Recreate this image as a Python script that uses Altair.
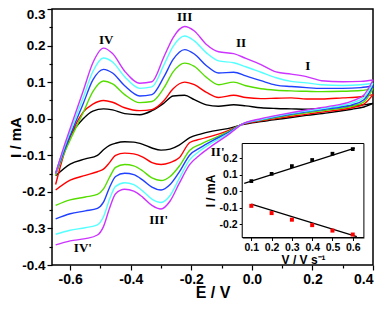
import altair as alt
import pandas as pd

# ---------------- data ----------------
series = ["black", "red", "green", "blue", "cyan", "magenta"]
colors = ["#000000", "#ff0000", "#55dd00", "#2040ff", "#55ffff", "#cc33ff"]

# anodic (upper) branch sample potentials
x_up = [-0.648, -0.62, -0.60, -0.557, -0.525, -0.49, -0.46, -0.42, -0.37, -0.33, -0.29, -0.26, -0.222,
        -0.19, -0.15, -0.11, -0.06, -0.02, 0.03, 0.08, 0.13, 0.18, 0.23, 0.30, 0.36, 0.40]
up_black = [-0.15, -0.082, -0.047, 0.0, 0.021, 0.027, 0.024, 0.014, 0.011, 0.022, 0.043, 0.062, 0.064,
            0.052, 0.038, 0.034, 0.038, 0.035, 0.03, 0.028, 0.027, 0.026, 0.028, 0.034, 0.037, 0.042]
up_red = [-0.18, -0.095, -0.05, 0.018, 0.04, 0.05, 0.045, 0.03, 0.022, 0.025, 0.05, 0.082, 0.1,
          0.093, 0.072, 0.058, 0.064, 0.058, 0.055, 0.056, 0.057, 0.054, 0.054, 0.057, 0.06, 0.066]
up_green = [-0.155, -0.095, -0.058, 0.017, 0.074, 0.103, 0.095, 0.066, 0.044, 0.047, 0.085, 0.128, 0.152,
            0.143, 0.113, 0.093, 0.1, 0.09, 0.082, 0.078, 0.076, 0.075, 0.074, 0.075, 0.077, 0.083]
up_blue = [-0.15, -0.088, -0.045, 0.041, 0.106, 0.135, 0.125, 0.09, 0.062, 0.066, 0.115, 0.162, 0.189,
           0.177, 0.145, 0.125, 0.127, 0.117, 0.104, 0.092, 0.088, 0.085, 0.083, 0.083, 0.085, 0.09]
up_cyan = [-0.15, -0.08, -0.036, 0.058, 0.129, 0.166, 0.155, 0.115, 0.083, 0.087, 0.148, 0.198, 0.226,
           0.213, 0.18, 0.158, 0.153, 0.142, 0.127, 0.112, 0.102, 0.098, 0.093, 0.091, 0.093, 0.097]
up_magenta = [-0.15, -0.075, -0.027, 0.076, 0.153, 0.193, 0.178, 0.13, 0.097, 0.101, 0.17, 0.222, 0.252,
              0.24, 0.203, 0.183, 0.178, 0.165, 0.148, 0.128, 0.122, 0.115, 0.104, 0.101, 0.102, 0.106]

# cathodic (lower) branch sample potentials
x_lo = [0.40, 0.37, 0.33, 0.25, 0.18, 0.10, 0.03, -0.03, -0.08, -0.13, -0.17, -0.205, -0.24, -0.27,
        -0.30, -0.33, -0.36, -0.39, -0.42, -0.45, -0.47, -0.49, -0.51, -0.55, -0.60, -0.648]
lo_black = [0.042, 0.032, 0.026, 0.016, 0.009, 0.0, -0.008, -0.016, -0.027, -0.034, -0.042, -0.052, -0.072,
            -0.083, -0.086, -0.08, -0.07, -0.064, -0.063, -0.067, -0.073, -0.085, -0.1, -0.11, -0.124, -0.156]
lo_red = [0.066, 0.04, 0.03, 0.02, 0.012, 0.003, -0.006, -0.015, -0.033, -0.047, -0.056, -0.065, -0.107,
          -0.12, -0.125, -0.12, -0.105, -0.096, -0.094, -0.1, -0.12, -0.138, -0.145, -0.155, -0.168, -0.195]
lo_green = [0.083, 0.046, 0.034, 0.024, 0.016, 0.006, -0.004, -0.014, -0.036, -0.055, -0.07, -0.086, -0.13,
            -0.158, -0.169, -0.162, -0.143, -0.129, -0.125, -0.133, -0.16, -0.192, -0.207, -0.214, -0.222, -0.237]
lo_blue = [0.09, 0.052, 0.038, 0.027, 0.019, 0.008, -0.003, -0.014, -0.039, -0.06, -0.079, -0.099, -0.146,
           -0.18, -0.195, -0.187, -0.168, -0.153, -0.149, -0.158, -0.188, -0.228, -0.245, -0.252, -0.26, -0.274]
lo_cyan = [0.097, 0.058, 0.043, 0.03, 0.021, 0.01, -0.002, -0.014, -0.042, -0.065, -0.087, -0.112, -0.164,
           -0.21, -0.229, -0.22, -0.198, -0.18, -0.175, -0.185, -0.22, -0.268, -0.29, -0.298, -0.305, -0.316]
lo_magenta = [0.106, 0.065, 0.048, 0.033, 0.024, 0.012, 0.0, -0.014, -0.045, -0.073, -0.098, -0.125, -0.177,
              -0.225, -0.247, -0.237, -0.215, -0.198, -0.193, -0.205, -0.245, -0.295, -0.318, -0.328, -0.334, -0.345]

ups = [up_black, up_red, up_green, up_blue, up_cyan, up_magenta]
los = [lo_black, lo_red, lo_green, lo_blue, lo_cyan, lo_magenta]

peak_labels = ["IV", "III", "II", "I", "II'", "III'", "IV'"]
peak_x = [-0.481, -0.222, -0.036, 0.185, -0.113, -0.308, -0.558]
peak_y = [0.216, 0.279, 0.206, 0.143, -0.091, -0.276, -0.354]

x_domain = [-0.66, 0.4]
y_domain = [-0.4, 0.3]
x_tick_values = [-0.6, -0.5, -0.4, -0.3, -0.2, -0.1, 0.0, 0.1, 0.2, 0.3, 0.4]
y_tick_values = [-0.4, -0.35, -0.3, -0.25, -0.2, -0.15, -0.1, -0.05, 0.0, 0.05, 0.1, 0.15, 0.2, 0.25, 0.3]

# inset: peak current vs scan rate
scan_rate = [0.1, 0.2, 0.3, 0.4, 0.5, 0.6]
ip_anodic = [0.062, 0.106, 0.153, 0.19, 0.228, 0.256]
ip_cathodic = [-0.088, -0.132, -0.172, -0.205, -0.238, -0.262]
fit_a_x = [0.065, 0.61]
fit_a_y = [0.048, 0.262]
fit_c_x = [0.1, 0.62]
fit_c_y = [-0.078, -0.275]
inset_x_domain = [0.055, 0.655]
inset_y_domain = [-0.28, 0.29]
inset_x_ticks = [0.1, 0.2, 0.3, 0.4, 0.5, 0.6]
inset_y_ticks = [-0.2, -0.1, 0.0, 0.1, 0.2]

# ---------------- layout ----------------
W, H = 321, 256
PAD = {"left": 44, "top": 1, "right": 11, "bottom": 36}
inset_x_range = [190.2, 311.9]
inset_y_range = [228.5, 134.5]

rows = []
for name, up, lo in zip(series, ups, los):
    for xv, yv in zip(x_up, up):
        rows.append({"s": name, "b": name + "_up", "x": xv, "y": yv})
    for xv, yv in zip(x_lo, lo):
        rows.append({"s": name, "b": name + "_lo", "x": xv, "y": yv})
df = pd.DataFrame(rows)

FONT = "Liberation Sans"
minus_expr = "(datum.value < -0.0001 ? '-' : '') + format(abs(datum.value), '.1f')"

xs = alt.Scale(domain=x_domain, nice=False, zero=False)
ys = alt.Scale(domain=y_domain, nice=False, zero=False)

x_axis = alt.Axis(
    values=x_tick_values, title="E / V", grid=False, domain=False,
    labelExpr="round(datum.value*10) % 2 === 0 ? " + minus_expr + " : ''",
    tickSize={"condition": {"test": "round(datum.value*10) % 2 === 0", "value": 5}, "value": 3},
    labelFont=FONT, labelFontWeight="bold", labelFontSize=14, labelPadding=2,
    titleFont=FONT, titleFontWeight="bold", titleFontSize=16, titleY=19,
    tickColor="black", tickWidth=1.2, labelColor="black", titleColor="black",
)
y_axis = alt.Axis(
    values=y_tick_values, title="I / mA", grid=False, domain=False,
    labelExpr="round(datum.value*20) % 2 === 0 ? " + minus_expr + " : ''",
    tickSize={"condition": {"test": "round(datum.value*20) % 2 === 0", "value": 5}, "value": 3},
    labelOffset={"condition": {"test": "datum.value > 0.29", "value": 5}, "value": 0},
    labelFont=FONT, labelFontWeight="bold", labelFontSize=13.5, labelPadding=2,
    titleFont=FONT, titleFontWeight="bold", titleFontSize=15, titleX=-29, titleY=H / 2,
    tickColor="black", tickWidth=1.2, labelColor="black", titleColor="black",
)

curves = alt.Chart(df).mark_line(strokeWidth=1.4, interpolate="monotone").encode(
    x=alt.X("x:Q", scale=xs, axis=x_axis),
    y=alt.Y("y:Q", scale=ys, axis=y_axis),
    color=alt.Color("s:N", scale=alt.Scale(domain=series, range=colors), legend=None),
    detail="b:N",
)

lab_df = pd.DataFrame({"t": peak_labels, "x": peak_x, "y": peak_y})
labels = alt.Chart(lab_df).mark_text(
    font="Liberation Serif", fontWeight="bold", fontSize=13, color="black"
).encode(
    x=alt.X("x:Q", scale=xs, axis=x_axis),
    y=alt.Y("y:Q", scale=ys, axis=y_axis),
    text="t:N",
)

main = alt.layer(curves, labels)

# ---------------- inset ----------------
ixs = alt.Scale(domain=inset_x_domain, range=inset_x_range, nice=False, zero=False)
iys = alt.Scale(domain=inset_y_domain, range=inset_y_range, nice=False, zero=False)

ix_axis = alt.Axis(
    orient="bottom", offset=-(H - inset_y_range[0]), values=inset_x_ticks, format=".1f",
    title="V / V s\u207b\u00b9", grid=False, domain=True, domainColor="black", domainWidth=1,
    tickSize=3, tickColor="black", labelFont=FONT, labelFontWeight="bold", labelFontSize=10.5,
    labelPadding=2, labelColor="black", titleFont=FONT, titleFontWeight="bold", titleFontSize=12,
    titlePadding=1, titleColor="black",
)
iy_axis = alt.Axis(
    orient="left", offset=-inset_x_range[0], values=inset_y_ticks, labelExpr=minus_expr,
    title="I / mA", grid=False, domain=True, domainColor="black", domainWidth=1,
    tickSize=3, tickColor="black", labelFont=FONT, labelFontWeight="bold", labelFontSize=10.5,
    labelPadding=2, labelColor="black", titleFont=FONT, titleFontWeight="bold", titleFontSize=12,
    titlePadding=2, titleColor="black",
)

frame_df = pd.DataFrame({"x": [inset_x_domain[0]], "x1": [inset_x_domain[1]],
                         "y": [inset_y_domain[0]], "y1": [inset_y_domain[1]]})
frame = alt.Chart(frame_df).mark_rect(fill="white", stroke="black", strokeWidth=1).encode(
    x=alt.X("x:Q", scale=ixs, axis=ix_axis),
    x2="x1",
    y=alt.Y("y:Q", scale=iys, axis=iy_axis),
    y2="y1",
)

pa_df = pd.DataFrame({"x": scan_rate, "y": ip_anodic})
pc_df = pd.DataFrame({"x": scan_rate, "y": ip_cathodic})
fa_df = pd.DataFrame({"x": fit_a_x, "y": fit_a_y})
fc_df = pd.DataFrame({"x": fit_c_x, "y": fit_c_y})

def enc(ch):
    return ch.encode(x=alt.X("x:Q", scale=ixs, axis=ix_axis), y=alt.Y("y:Q", scale=iys, axis=iy_axis))

line_a = enc(alt.Chart(fa_df).mark_line(color="black", strokeWidth=1.2))
line_c = enc(alt.Chart(fc_df).mark_line(color="black", strokeWidth=1.2))
pts_a = enc(alt.Chart(pa_df).mark_square(color="black", size=14, opacity=1))
pts_c = enc(alt.Chart(pc_df).mark_square(color="#ff0000", size=16, opacity=1))

inset = alt.layer(frame, line_a, line_c, pts_a, pts_c)

chart = alt.layer(main, inset).resolve_scale(x="independent", y="independent").properties(
    width=W, height=H, autosize="none", padding=PAD
).configure_view(stroke="black", strokeWidth=1.5)

chart.save("out.html", embed_options={"renderer": "svg", "actions": False})
